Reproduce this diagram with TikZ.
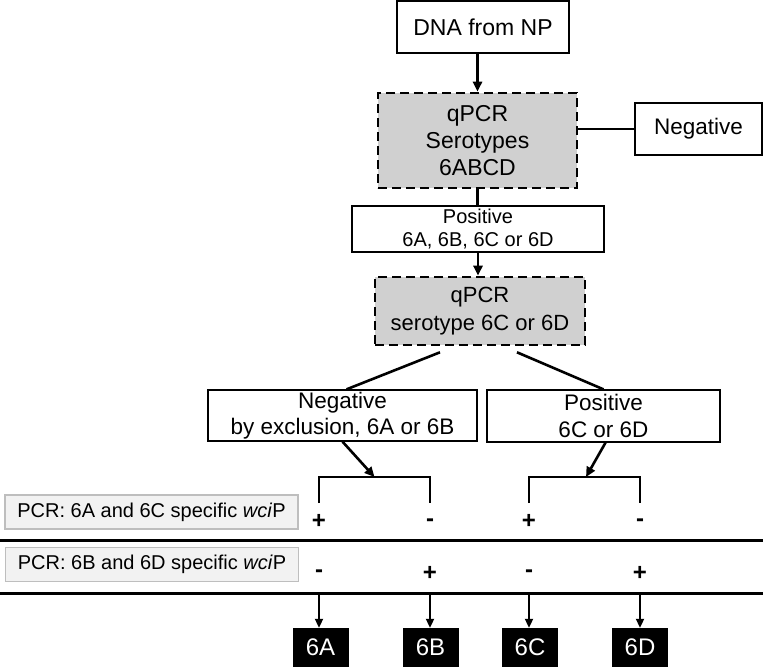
\documentclass[tikz,border=0pt]{standalone}
\usepackage{fontspec}
\setmainfont{Liberation Sans}
\usetikzlibrary{arrows.meta,calc}

\definecolor{testgray}{RGB}{208,208,208}
\definecolor{pcrfill}{RGB}{242,242,242}
\definecolor{pcrline}{RGB}{190,190,190}

\tikzset{
  whitebox/.style={draw, line width=1.3pt, fill=white, align=center, inner sep=0pt},
  testbox/.style={draw, line width=2.6pt, dash pattern=on 9pt off 5pt,
    fill=testgray, align=center, inner sep=0pt},
  pcrbox/.style={draw=pcrline, line width=1.5pt, fill=pcrfill,
    minimum width=293pt, inner sep=0pt, minimum height=34pt,
    font=\fontsize{20}{24}\selectfont},
  typebox/.style={fill=black, text=white, minimum width=56pt, minimum height=39pt,
    inner sep=0pt, font=\fontsize{24}{28}\selectfont},
  signmark/.style={inner sep=0pt, font=\fontsize{24}{28}\selectfont\bfseries},
  flowline/.style={line width=2.6pt},
  flowarrow/.style={flowline, -{Triangle[length=10pt,width=9pt]}},
  typearrow/.style={line width=2pt, -{Triangle[length=9pt,width=8pt]}},
}

\begin{document}
\begin{tikzpicture}[x=1pt, y=-1pt]

  \useasboundingbox (0,0) rectangle (763,667);

  % tests and outcomes
  \node[whitebox, minimum width=172pt, minimum height=52pt,
    font=\fontsize{23}{27}\selectfont] (dna) at (483,27) {DNA from NP};
  \node[testbox, minimum width=199pt, minimum height=95pt,
    font=\fontsize{23}{26.7}\selectfont] (qall) at (477.5,140.5)
    {qPCR\\Serotypes\\6ABCD};
  \node[whitebox, minimum width=127pt, minimum height=52pt,
    font=\fontsize{22.5}{27}\selectfont] (negall) at (698.5,129) {Negative};
  \node[whitebox, minimum width=252pt, minimum height=46pt,
    font=\fontsize{20}{23}\selectfont] (posall) at (478,229)
    {Positive\\6A, 6B, 6C or 6D};
  \node[testbox, minimum width=210pt, minimum height=68pt,
    font=\fontsize{22}{28}\selectfont] (qcd) at (480,311)
    {qPCR\\serotype 6C or 6D};
  \node[whitebox, minimum width=269pt, minimum height=51pt,
    font=\fontsize{22.5}{26}\selectfont] (negab) at (342.5,415.5)
    {Negative\\by exclusion, 6A or 6B};
  \node[whitebox, minimum width=233pt, minimum height=52pt,
    font=\fontsize{22.5}{27}\selectfont] (poscd) at (603.5,416)
    {Positive\\6C or 6D};

  \draw[flowarrow] (qall.north |- dna.south) -- (qall.north);
  \draw[flowline] (negall.west) -- (negall.west -| qall.east);
  \draw[flowline] (qall.south) -- (qall.south |- posall.north);
  \draw[flowarrow] (posall.south) -- (posall.south |- qcd.north);
  \draw[flowline] ($(qcd.south)+(-40,6)$) -- ($(negab.north)+(4,0)$);
  \draw[flowline] ($(qcd.south)+(37,6)$) -- (poscd.north);

  % brackets
  \coordinate (topab) at (374.5,477);
  \coordinate (topcd) at (584.5,477);
  \draw[flowarrow] (negab.south) -- (topab);
  \draw[flowarrow] ($(poscd.south)+(2,0)$) -- ($(topcd)+(1.5,0)$);
  \draw[flowline] (319,503) |- (topab) -| (430,503);
  \draw[flowline] (529,503) |- (topcd) -| (640,503);

  % PCR rows
  \node[pcrbox] (pcrac) at (151.5,512) {PCR: 6A and 6C specific \textit{wci}P};
  \node[pcrbox] (pcrbd) at (152,564.5) {PCR: 6B and 6D specific \textit{wci}P};

  \node[signmark] (acA) at (319,521) {+};
  \node[signmark] (acB) at (430,523) {-};
  \node[signmark] (acC) at (529,521) {+};
  \node[signmark] (acD) at (640,523) {-};
  \node[signmark] (bdA) at (319,574) {-};
  \node[signmark] (bdB) at (430,573) {+};
  \node[signmark] (bdC) at (529,574) {-};
  \node[signmark] (bdD) at (640,573) {+};

  \draw[line width=3pt] (0,540) -- (763,540);
  \draw[line width=3pt] (0,593) -- (763,593);

  % serotypes
  \node[typebox] (tA) at (320.5,647.5) {6A};
  \node[typebox] (tB) at (430.5,647.5) {6B};
  \node[typebox] (tC) at (530,647.5) {6C};
  \node[typebox] (tD) at (640,647.5) {6D};

  \coordinate (cutA) at (319,593);
  \coordinate (cutB) at (430,593);
  \coordinate (cutC) at (529,593);
  \coordinate (cutD) at (640,593);
  \draw[typearrow] (cutA) -- (cutA |- tA.north);
  \draw[typearrow] (cutB) -- (cutB |- tB.north);
  \draw[typearrow] (cutC) -- (cutC |- tC.north);
  \draw[typearrow] (cutD) -- (cutD |- tD.north);

\end{tikzpicture}
\end{document}
